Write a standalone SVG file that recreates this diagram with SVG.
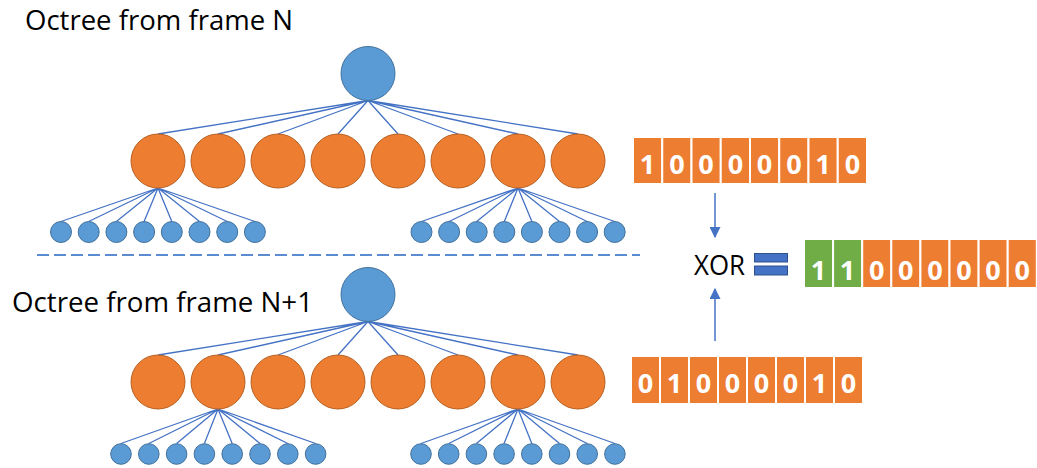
<svg xmlns="http://www.w3.org/2000/svg" width="1037" height="468" viewBox="0 0 1037 468">
<defs>
<style>
.root{fill:#5B9BD5;stroke:#41719C;stroke-width:1}
.mid{fill:#ED7D31;stroke:#B85F20;stroke-width:1}
.leaf{fill:#5B9BD5;stroke:#41719C;stroke-width:1}
.edge{stroke:#4472C4;stroke-width:1.3;fill:none}
.lbl{font-family:"Open Sans","Liberation Sans",sans-serif;font-size:27px;fill:#000}
.cell{fill:#ED7D31;stroke:#fff;stroke-width:2}
.gcell{fill:#70AD47;stroke:#fff;stroke-width:2}
.bit{font-family:"Open Sans","Liberation Sans",sans-serif;font-size:27px;font-weight:700;fill:#fff;text-anchor:middle}
.arr{stroke:#4472C4;stroke-width:1.5;fill:none}
.eq{fill:#4472C4;stroke:#2F528F;stroke-width:1}
</style>
<marker id="ah" viewBox="0 0 10 10" refX="9" refY="5" markerWidth="11" markerHeight="11" markerUnits="userSpaceOnUse" orient="auto">
<path d="M0,0 L10,5 L0,10 z" fill="#4472C4"/>
</marker>
</defs>
<rect width="1037" height="468" fill="#fff"/>

<text class="lbl" x="25" y="30" textLength="268" lengthAdjust="spacingAndGlyphs">Octree from frame N</text>
<text class="lbl" x="12" y="312" textLength="301" lengthAdjust="spacingAndGlyphs">Octree from frame N+1</text>

<line x1="37" y1="255" x2="640" y2="255" stroke="#5B8BD0" stroke-width="2" stroke-dasharray="12 5"/>

<g id="connectors">
<path class="edge" d="M368,100.5 L158,134 M368,100.5 L218,134 M368,100.5 L278,134 M368,100.5 L338,134 M368,100.5 L398,134 M368,100.5 L458,134 M368,100.5 L518,134 M368,100.5 L578,134"/>
<path class="edge" d="M158,188 L61,221.5 M158,188 L88.7,221.5 M158,188 L116.4,221.5 M158,188 L144.1,221.5 M158,188 L171.8,221.5 M158,188 L199.5,221.5 M158,188 L227.2,221.5 M158,188 L254.9,221.5"/>
<path class="edge" d="M518,188 L421.5,221.5 M518,188 L449.1,221.5 M518,188 L476.7,221.5 M518,188 L504.3,221.5 M518,188 L531.9,221.5 M518,188 L559.5,221.5 M518,188 L587.1,221.5 M518,188 L614.7,221.5"/>
<path class="edge" d="M368,321.5 L158,355 M368,321.5 L218,355 M368,321.5 L278,355 M368,321.5 L338,355 M368,321.5 L398,355 M368,321.5 L458,355 M368,321.5 L518,355 M368,321.5 L578,355"/>
<path class="edge" d="M218,409 L121,443.5 M218,409 L148.8,443.5 M218,409 L176.6,443.5 M218,409 L204.4,443.5 M218,409 L232.2,443.5 M218,409 L260,443.5 M218,409 L287.8,443.5 M218,409 L315.6,443.5"/>
<path class="edge" d="M518,409 L421,443.5 M518,409 L448.7,443.5 M518,409 L476.4,443.5 M518,409 L504.1,443.5 M518,409 L531.8,443.5 M518,409 L559.5,443.5 M518,409 L587.2,443.5 M518,409 L614.9,443.5"/>
<line class="arr" x1="715" y1="193" x2="715" y2="237" marker-end="url(#ah)"/>
<line class="arr" x1="715" y1="341" x2="715" y2="289" marker-end="url(#ah)"/>
</g>

<g id="treeN">
<circle id="rootN" class="root" cx="368" cy="73.5" r="27"/>
<g id="midN">
<circle class="mid" cx="158" cy="161" r="27"/><circle class="mid" cx="218" cy="161" r="27"/><circle class="mid" cx="278" cy="161" r="27"/><circle class="mid" cx="338" cy="161" r="27"/><circle class="mid" cx="398" cy="161" r="27"/><circle class="mid" cx="458" cy="161" r="27"/><circle class="mid" cx="518" cy="161" r="27"/><circle class="mid" cx="578" cy="161" r="27"/>
</g>
<g id="leavesN_left">
<circle class="leaf" cx="61" cy="232" r="10.5"/><circle class="leaf" cx="88.7" cy="232" r="10.5"/><circle class="leaf" cx="116.4" cy="232" r="10.5"/><circle class="leaf" cx="144.1" cy="232" r="10.5"/><circle class="leaf" cx="171.8" cy="232" r="10.5"/><circle class="leaf" cx="199.5" cy="232" r="10.5"/><circle class="leaf" cx="227.2" cy="232" r="10.5"/><circle class="leaf" cx="254.9" cy="232" r="10.5"/>
</g>
<g id="leavesN_right">
<circle class="leaf" cx="421.5" cy="232" r="10.5"/><circle class="leaf" cx="449.1" cy="232" r="10.5"/><circle class="leaf" cx="476.7" cy="232" r="10.5"/><circle class="leaf" cx="504.3" cy="232" r="10.5"/><circle class="leaf" cx="531.9" cy="232" r="10.5"/><circle class="leaf" cx="559.5" cy="232" r="10.5"/><circle class="leaf" cx="587.1" cy="232" r="10.5"/><circle class="leaf" cx="614.7" cy="232" r="10.5"/>
</g>
</g>

<g id="treeN1">
<circle id="rootN1" class="root" cx="368" cy="294.5" r="27"/>
<g id="midN1">
<circle class="mid" cx="158" cy="382" r="27"/><circle class="mid" cx="218" cy="382" r="27"/><circle class="mid" cx="278" cy="382" r="27"/><circle class="mid" cx="338" cy="382" r="27"/><circle class="mid" cx="398" cy="382" r="27"/><circle class="mid" cx="458" cy="382" r="27"/><circle class="mid" cx="518" cy="382" r="27"/><circle class="mid" cx="578" cy="382" r="27"/>
</g>
<g id="leavesN1_left">
<circle class="leaf" cx="121" cy="454" r="10.3"/><circle class="leaf" cx="148.8" cy="454" r="10.3"/><circle class="leaf" cx="176.6" cy="454" r="10.3"/><circle class="leaf" cx="204.4" cy="454" r="10.3"/><circle class="leaf" cx="232.2" cy="454" r="10.3"/><circle class="leaf" cx="260" cy="454" r="10.3"/><circle class="leaf" cx="287.8" cy="454" r="10.3"/><circle class="leaf" cx="315.6" cy="454" r="10.3"/>
</g>
<g id="leavesN1_right">
<circle class="leaf" cx="421" cy="454" r="10.3"/><circle class="leaf" cx="448.7" cy="454" r="10.3"/><circle class="leaf" cx="476.4" cy="454" r="10.3"/><circle class="leaf" cx="504.1" cy="454" r="10.3"/><circle class="leaf" cx="531.8" cy="454" r="10.3"/><circle class="leaf" cx="559.5" cy="454" r="10.3"/><circle class="leaf" cx="587.2" cy="454" r="10.3"/><circle class="leaf" cx="614.9" cy="454" r="10.3"/>
</g>
</g>

<g id="bitsN">
<rect class="cell" x="633" y="137" width="29.25" height="47"/><rect class="cell" x="662.25" y="137" width="29.25" height="47"/><rect class="cell" x="691.5" y="137" width="29.25" height="47"/><rect class="cell" x="720.75" y="137" width="29.25" height="47"/><rect class="cell" x="750" y="137" width="29.25" height="47"/><rect class="cell" x="779.25" y="137" width="29.25" height="47"/><rect class="cell" x="808.5" y="137" width="29.25" height="47"/><rect class="cell" x="837.75" y="137" width="29.25" height="47"/>
<text class="bit" x="647.6" y="174">1</text><text class="bit" x="676.9" y="174">0</text><text class="bit" x="706.1" y="174">0</text><text class="bit" x="735.4" y="174">0</text><text class="bit" x="764.6" y="174">0</text><text class="bit" x="793.9" y="174">0</text><text class="bit" x="823.1" y="174">1</text><text class="bit" x="852.4" y="174">0</text>
</g>

<g id="bitsN1">
<rect class="cell" x="631" y="356" width="29" height="48"/><rect class="cell" x="660" y="356" width="29" height="48"/><rect class="cell" x="689" y="356" width="29" height="48"/><rect class="cell" x="718" y="356" width="29" height="48"/><rect class="cell" x="747" y="356" width="29" height="48"/><rect class="cell" x="776" y="356" width="29" height="48"/><rect class="cell" x="805" y="356" width="29" height="48"/><rect class="cell" x="834" y="356" width="29" height="48"/>
<text class="bit" x="645.5" y="393">0</text><text class="bit" x="674.5" y="393">1</text><text class="bit" x="703.5" y="393">0</text><text class="bit" x="732.5" y="393">0</text><text class="bit" x="761.5" y="393">0</text><text class="bit" x="790.5" y="393">0</text><text class="bit" x="819.5" y="393">1</text><text class="bit" x="848.5" y="393">0</text>
</g>

<g id="xor">
<text class="lbl" x="694" y="275" textLength="51" lengthAdjust="spacingAndGlyphs">XOR</text>
<rect class="eq" x="754.5" y="253.5" width="33" height="8.5"/>
<rect class="eq" x="754.5" y="266" width="33" height="9"/>
</g>

<g id="result">
<rect class="gcell" x="804" y="239" width="29.1" height="49"/><rect class="gcell" x="833.1" y="239" width="29.1" height="49"/><rect class="cell" x="862.2" y="239" width="29.1" height="49"/><rect class="cell" x="891.3" y="239" width="29.1" height="49"/><rect class="cell" x="920.4" y="239" width="29.1" height="49"/><rect class="cell" x="949.5" y="239" width="29.1" height="49"/><rect class="cell" x="978.6" y="239" width="29.1" height="49"/><rect class="cell" x="1007.7" y="239" width="29.1" height="49"/>
<text class="bit" x="818.5" y="280">1</text><text class="bit" x="847.6" y="280">1</text><text class="bit" x="876.7" y="280">0</text><text class="bit" x="905.8" y="280">0</text><text class="bit" x="934.9" y="280">0</text><text class="bit" x="964" y="280">0</text><text class="bit" x="993.1" y="280">0</text><text class="bit" x="1022.2" y="280">0</text>
</g>
</svg>
